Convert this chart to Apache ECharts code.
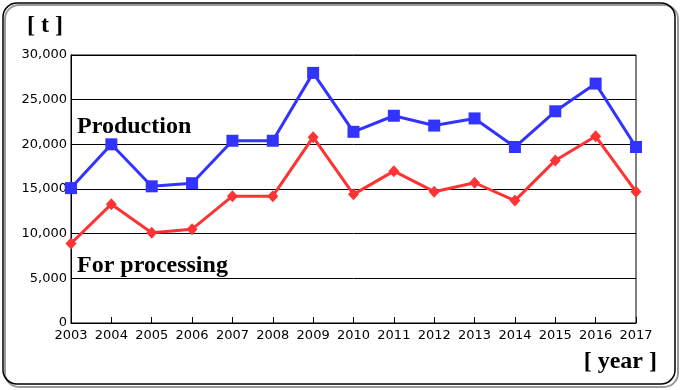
<!DOCTYPE html>
<html><head><meta charset="utf-8">
<script src="https://cdn.jsdelivr.net/npm/echarts@6/dist/echarts.min.js"></script>
<style>html,body{margin:0;padding:0;background:#fff}#c{width:680px;height:390px}</style>
</head><body><div id="c"></div>
<script>
const years = ['2003','2004','2005','2006','2007','2008','2009','2010','2011','2012','2013','2014','2015','2016','2017'];
const production = [15100,20000,15300,15650,20400,20400,28000,21400,23200,22100,22900,19700,23700,26800,19700];
const forProcessing = [8900,13300,10100,10500,14200,14200,20800,14400,17000,14700,15700,13700,18200,20900,14700];
const yTicks = [0,5000,10000,15000,20000,25000,30000];

const chart = echarts.init(document.getElementById('c'), null, {renderer:'canvas'});
const serif = '"Liberation Serif", "DejaVu Serif", serif';
const sans = '"DejaVu Sans", "Liberation Sans", sans-serif';
chart.setOption({
  animation:false,
  backgroundColor:'#fff',
  grid:{left:71,right:44,top:55,bottom:67,show:true,borderColor:'#000',borderWidth:1,backgroundColor:'transparent'},
  graphic:[
    {type:'rect',shape:{x:5,y:5,width:673,height:382,r:14},style:{fill:'none',stroke:'#9a9a9a',lineWidth:2},z:-1},
    {type:'rect',shape:{x:3,y:3,width:672,height:381,r:14},style:{fill:'none',stroke:'#000',lineWidth:1.5},z:0},
    {type:'text',left:27,top:14,style:{text:'[ t ]',font:'bold 24px '+serif,fill:'#000'}},
    {type:'text',left:77,top:115,style:{text:'Production',font:'bold 24px '+serif,fill:'#000'}},
    {type:'text',left:77,top:254,style:{text:'For processing',font:'bold 24px '+serif,fill:'#000'}},
    {type:'text',right:23,top:350,style:{text:'[ year ]',font:'bold 24px '+serif,fill:'#000'}}
  ],
  xAxis:{type:'category',data:years,boundaryGap:false,
    axisLine:{lineStyle:{color:'#000',width:1}},
    axisTick:{inside:true,length:6,lineStyle:{color:'#000'}},
    axisLabel:{color:'#000',fontFamily:sans,fontSize:13,margin:6,interval:0},
    splitLine:{show:false}},
  yAxis:{type:'value',min:0,max:30000,interval:5000,
    axisLine:{show:true,lineStyle:{color:'#000',width:1}},
    axisTick:{show:false},
    axisLabel:{color:'#000',fontFamily:sans,fontSize:13,margin:4,
      formatter:v=>yTicks.includes(v)?v.toLocaleString('en-US'):''},
    splitLine:{lineStyle:{color:'#000',width:1}}},
  series:[
    {name:'Production',type:'line',data:production,color:'#3333ff',
      lineStyle:{width:3,color:'#3333ff'},symbol:'rect',symbolSize:12,
      itemStyle:{color:'#3333ff'}},
    {name:'For processing',type:'line',data:forProcessing,color:'#ff3333',
      lineStyle:{width:3,color:'#ff3333'},symbol:'diamond',symbolSize:[11,12],
      itemStyle:{color:'#ff3333'}}
  ]
});
</script></body></html>
